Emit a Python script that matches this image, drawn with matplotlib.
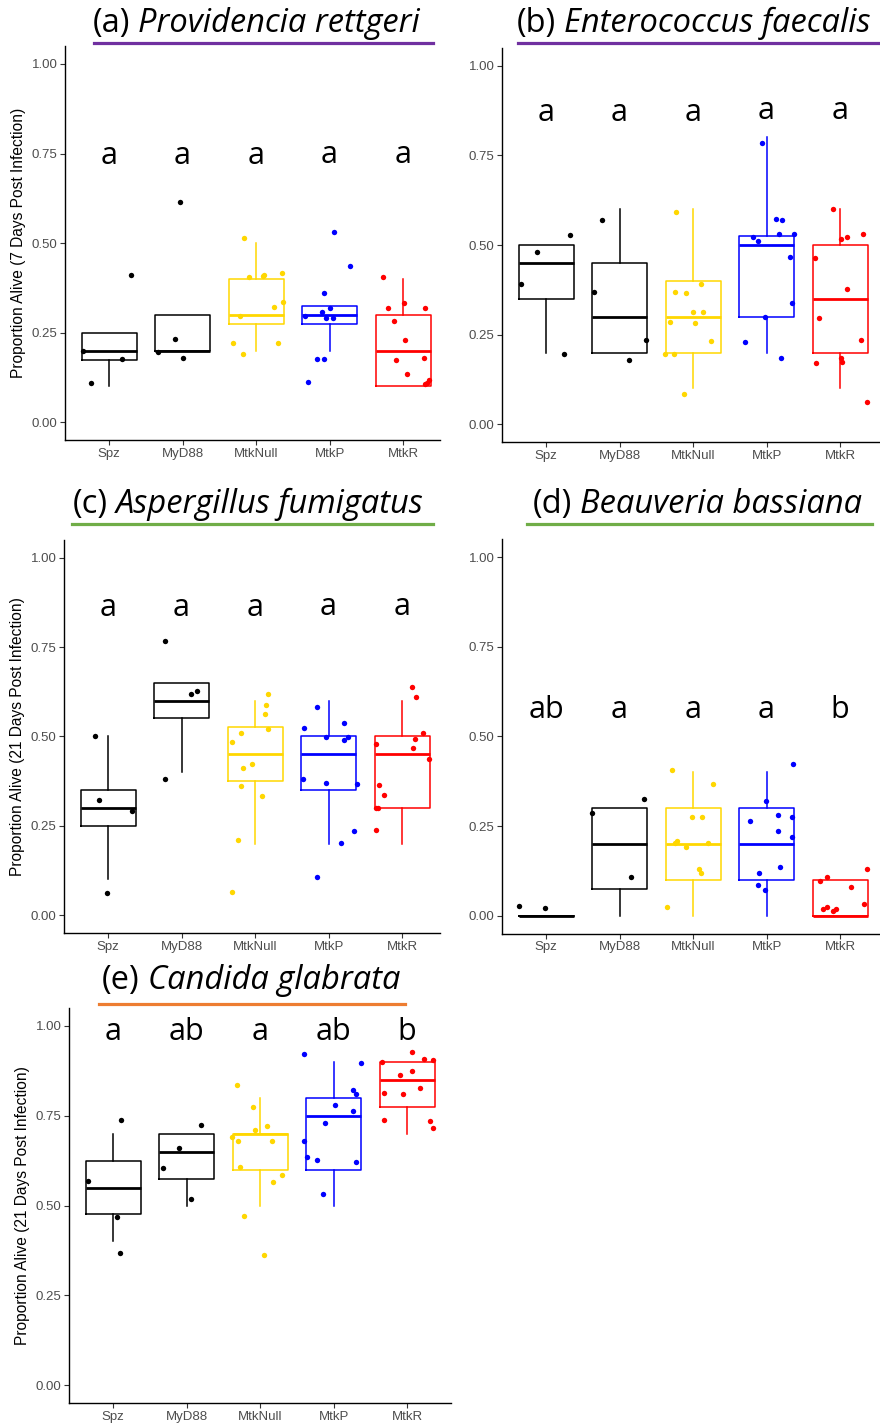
import matplotlib
matplotlib.use('Agg')
import matplotlib.pyplot as plt
from matplotlib.lines import Line2D

W, H = 880, 1424
DPI = 100

GROUPS = ['Spz', 'MyD88', 'MtkNull', 'MtkP', 'MtkR']
GROUP_COLORS = ['#000000', '#000000', '#FFD700', '#0000FF', '#FF0000']
YTICKS = [0.00, 0.25, 0.50, 0.75, 1.00]
YTICK_LABELS = ['0.00', '0.25', '0.50', '0.75', '1.00']

# ---------------- Panel (a) Providencia rettgeri ----------------
A_WHISLO = [0.10, 0.20, 0.20, 0.20, 0.10]
A_Q1 = [0.175, 0.20, 0.275, 0.275, 0.10]
A_MED = [0.20, 0.20, 0.30, 0.30, 0.20]
A_Q3 = [0.25, 0.30, 0.40, 0.325, 0.30]
A_WHISHI = [0.25, 0.30, 0.50, 0.325, 0.40]
A_DX = [[-0.36, -0.24, 0.18, 0.30],
        [-0.33, -0.11, 0.01, -0.04],
        [-0.16, -0.10, 0.10, 0.11, 0.35, 0.36, 0.25, -0.22, -0.31, 0.30, -0.18],
        [0.06, 0.28, -0.07, -0.34, -0.10, 0.01, -0.05, 0.04, -0.17, -0.07, -0.30],
        [-0.27, -0.20, 0.01, 0.30, -0.13, 0.02, -0.09, 0.29, 0.05, 0.33, 0.35, 0.30]]
A_Y = [[0.199, 0.109, 0.176, 0.412],
       [0.195, 0.233, 0.179, 0.614],
       [0.514, 0.406, 0.408, 0.410, 0.416, 0.336, 0.323, 0.297, 0.220, 0.220, 0.191],
       [0.532, 0.437, 0.361, 0.296, 0.307, 0.320, 0.292, 0.291, 0.177, 0.177, 0.112],
       [0.406, 0.319, 0.332, 0.319, 0.283, 0.231, 0.173, 0.179, 0.136, 0.109, 0.118, 0.107]]
A_LETTERS = ['a', 'a', 'a', 'a', 'a']
A_LETTER_Y = [0.721, 0.721, 0.721, 0.725, 0.725]

# ---------------- Panel (b) Enterococcus faecalis ----------------
B_WHISLO = [0.20, 0.20, 0.10, 0.20, 0.10]
B_Q1 = [0.35, 0.20, 0.20, 0.30, 0.20]
B_MED = [0.45, 0.30, 0.30, 0.50, 0.35]
B_Q3 = [0.50, 0.45, 0.40, 0.525, 0.50]
B_WHISHI = [0.50, 0.60, 0.60, 0.80, 0.60]
B_DX = [[-0.34, -0.13, 0.33, 0.24],
        [-0.24, -0.35, 0.36, 0.13],
        [-0.23, 0.11, -0.24, -0.09, 0.00, 0.13, -0.31, 0.02, 0.24, -0.38, -0.26, -0.12],
        [-0.06, 0.13, 0.21, -0.19, -0.12, 0.17, 0.37, 0.32, 0.34, -0.02, -0.30, 0.19],
        [-0.09, 0.01, 0.10, 0.31, -0.34, 0.10, -0.29, 0.28, -0.33, 0.01, 0.03, 0.37]]
B_Y = [[0.392, 0.481, 0.528, 0.197],
       [0.570, 0.368, 0.235, 0.180],
       [0.593, 0.391, 0.369, 0.366, 0.313, 0.313, 0.285, 0.283, 0.233, 0.197, 0.196, 0.084],
       [0.784, 0.572, 0.570, 0.522, 0.510, 0.530, 0.530, 0.466, 0.339, 0.300, 0.229, 0.184],
       [0.601, 0.516, 0.521, 0.530, 0.464, 0.378, 0.296, 0.235, 0.171, 0.185, 0.174, 0.061]]
B_LETTERS = ['a', 'a', 'a', 'a', 'a']
B_LETTER_Y = [0.846, 0.846, 0.846, 0.850, 0.850]

# ---------------- Panel (c) Aspergillus fumigatus ----------------
C_WHISLO = [0.10, 0.40, 0.20, 0.20, 0.20]
C_Q1 = [0.25, 0.55, 0.375, 0.35, 0.30]
C_MED = [0.30, 0.60, 0.45, 0.45, 0.45]
C_Q3 = [0.35, 0.65, 0.525, 0.50, 0.50]
C_WHISHI = [0.50, 0.65, 0.60, 0.60, 0.60]
C_DX = [[-0.18, -0.13, 0.32, -0.02],
        [-0.22, 0.13, 0.21, -0.22],
        [0.18, 0.15, 0.14, 0.18, -0.19, -0.31, -0.04, -0.16, -0.19, 0.10, -0.23, -0.31],
        [-0.16, -0.34, 0.21, -0.04, 0.27, 0.21, -0.35, -0.04, 0.39, 0.34, 0.17, -0.16],
        [0.14, 0.19, 0.29, 0.17, 0.15, 0.36, -0.36, -0.31, -0.25, -0.36, -0.33, -0.36]]
C_Y = [[0.501, 0.321, 0.291, 0.062],
       [0.767, 0.618, 0.626, 0.382],
       [0.618, 0.588, 0.563, 0.521, 0.508, 0.484, 0.424, 0.412, 0.362, 0.334, 0.211, 0.063],
       [0.583, 0.522, 0.536, 0.499, 0.497, 0.490, 0.382, 0.369, 0.368, 0.235, 0.202, 0.106],
       [0.639, 0.611, 0.510, 0.493, 0.468, 0.438, 0.479, 0.364, 0.336, 0.299, 0.299, 0.238]]
C_LETTERS = ['a', 'a', 'a', 'a', 'a']
C_LETTER_Y = [0.837, 0.837, 0.837, 0.841, 0.841]

# ---------------- Panel (d) Beauveria bassiana ----------------
D_WHISLO = [0.0, 0.0, 0.0, 0.0, 0.0]
D_Q1 = [0.0, 0.075, 0.10, 0.10, 0.0]
D_MED = [0.0, 0.20, 0.20, 0.20, 0.0]
D_Q3 = [0.0, 0.30, 0.30, 0.30, 0.10]
D_WHISHI = [0.0, 0.30, 0.40, 0.40, 0.10]
D_DX = [[-0.37, -0.02],
        [0.33, -0.37, 0.15],
        [-0.29, 0.27, -0.01, 0.12, -0.22, -0.25, -0.10, 0.20, 0.08, 0.11, -0.36],
        [0.36, -0.01, -0.23, 0.15, 0.35, 0.16, 0.34, 0.18, -0.11, -0.12, -0.02],
        [0.37, -0.18, -0.27, 0.15, 0.32, -0.23, -0.18, -0.10, -0.05]]
D_Y = [[0.026, 0.021],
       [0.326, 0.287, 0.109],
       [0.407, 0.367, 0.274, 0.276, 0.209, 0.204, 0.191, 0.202, 0.130, 0.118, 0.023],
       [0.423, 0.321, 0.264, 0.280, 0.274, 0.237, 0.220, 0.136, 0.119, 0.086, 0.073],
       [0.131, 0.109, 0.097, 0.079, 0.032, 0.020, 0.025, 0.014, 0.020]]
D_LETTERS = ['ab', 'a', 'a', 'a', 'b']
D_LETTER_Y = [0.551, 0.551, 0.551, 0.551, 0.551]

# ---------------- Panel (e) Candida glabrata ----------------
E_WHISLO = [0.40, 0.50, 0.50, 0.50, 0.70]
E_Q1 = [0.475, 0.575, 0.60, 0.60, 0.775]
E_MED = [0.55, 0.65, 0.70, 0.75, 0.85]
E_Q3 = [0.625, 0.70, 0.70, 0.80, 0.90]
E_WHISHI = [0.70, 0.70, 0.80, 0.90, 0.90]
E_DX = [[0.11, -0.34, 0.05, 0.09],
        [0.20, -0.10, -0.32, 0.06],
        [-0.31, -0.10, -0.07, 0.10, -0.38, -0.30, 0.16, -0.27, 0.30, 0.17, -0.22, 0.05],
        [-0.40, 0.37, 0.26, 0.30, 0.02, 0.26, -0.12, -0.40, -0.36, -0.23, 0.31, -0.15],
        [0.07, 0.23, 0.35, -0.34, 0.07, -0.10, 0.18, -0.31, -0.06, -0.32, 0.31, 0.35]]
E_Y = [[0.739, 0.569, 0.469, 0.368],
       [0.724, 0.660, 0.605, 0.518],
       [0.837, 0.774, 0.711, 0.721, 0.690, 0.679, 0.681, 0.606, 0.586, 0.565, 0.471, 0.362],
       [0.922, 0.898, 0.822, 0.811, 0.780, 0.762, 0.730, 0.679, 0.636, 0.626, 0.620, 0.532],
       [0.928, 0.907, 0.905, 0.900, 0.876, 0.863, 0.827, 0.812, 0.811, 0.738, 0.736, 0.715]]
E_LETTERS = ['a', 'ab', 'a', 'ab', 'b']
E_LETTER_Y = [0.961, 0.961, 0.961, 0.961, 0.961]

TITLE_TAGS = ['(a)', '(b)', '(c)', '(d)', '(e)']
SPECIES = ['Providencia rettgeri', 'Enterococcus faecalis', 'Aspergillus fumigatus',
           'Beauveria bassiana', 'Candida glabrata']
YLABELS = ['Proportion Alive (7 Days Post Infection)', None,
           'Proportion Alive (21 Days Post Infection)', None,
           'Proportion Alive (21 Days Post Infection)']
UNDERLINE_COLORS = ['#7030A0', '#7030A0', '#70AD47', '#70AD47', '#ED7D31']

# ---------------- layout (pixels) ----------------
# (left, right, y_at_0, y_at_1)
AX_BOX = [(65, 440, 422.3, 64.0),
          (502, 880, 424.3, 65.7),
          (64, 440, 915.0, 557.7),
          (502, 880, 915.7, 557.0),
          (69, 451, 1385.0, 1026.0)]
CAT_PX = 73.5
TITLE_POS = [(93, 32), (517, 32), (73, 513), (533, 513), (102, 989)]
UNDERLINE = [(94, 433, 43), (518, 880, 43), (72, 433, 524), (527, 872, 524), (99, 405, 1004)]

TITLE_FONT = 'Open Sans'
TICK_FONT = 'Liberation Sans'
LET_SIZE = 22
TITLE_SIZE = 23.5

panels = [
    (A_WHISLO, A_Q1, A_MED, A_Q3, A_WHISHI, A_DX, A_Y, A_LETTERS, A_LETTER_Y),
    (B_WHISLO, B_Q1, B_MED, B_Q3, B_WHISHI, B_DX, B_Y, B_LETTERS, B_LETTER_Y),
    (C_WHISLO, C_Q1, C_MED, C_Q3, C_WHISHI, C_DX, C_Y, C_LETTERS, C_LETTER_Y),
    (D_WHISLO, D_Q1, D_MED, D_Q3, D_WHISHI, D_DX, D_Y, D_LETTERS, D_LETTER_Y),
    (E_WHISLO, E_Q1, E_MED, E_Q3, E_WHISHI, E_DX, E_Y, E_LETTERS, E_LETTER_Y),
]

fig = plt.figure(figsize=(W / DPI, H / DPI), dpi=DPI)
fig.patch.set_facecolor('white')

for i, (wlo, q1, med, q3, whi, dxs, ys, letters, lety) in enumerate(panels):
    left, right, y0, y1 = AX_BOX[i]
    unit = y0 - y1
    top = y1 - 0.05 * unit
    bottom = y0 + 0.05 * unit
    ax = fig.add_axes([left / W, 1 - bottom / H, (right - left) / W, (bottom - top) / H])
    ax.set_ylim(-0.05, 1.05)
    ax.set_xlim(0.4, 0.4 + (right - left) / CAT_PX)
    pos = list(range(1, len(GROUPS) + 1))

    for j in range(len(GROUPS)):
        col = GROUP_COLORS[j]
        st = [dict(whislo=wlo[j], q1=q1[j], med=med[j], q3=q3[j], whishi=whi[j])]
        ax.bxp(st, positions=[pos[j]], widths=0.75, showfliers=False, showcaps=False,
               boxprops=dict(color=col, linewidth=1.1),
               whiskerprops=dict(color=col, linewidth=1.1),
               medianprops=dict(color=col, linewidth=2.0, solid_capstyle='butt'),
               manage_ticks=False, zorder=2)
    for j in range(len(GROUPS)):
        xs = [pos[j] + d for d in dxs[j]]
        ax.scatter(xs, ys[j], s=15, color=GROUP_COLORS[j], linewidths=0, zorder=3, clip_on=False)
    for j in range(len(GROUPS)):
        ax.text(pos[j], lety[j], letters[j], ha='center', va='baseline',
                fontsize=LET_SIZE, family=TITLE_FONT, color='black', zorder=4)

    ax.set_xticks(pos)
    ax.set_xticklabels(GROUPS, family=TICK_FONT)
    ax.set_yticks(YTICKS)
    ax.set_yticklabels(YTICK_LABELS, family=TICK_FONT)
    ax.tick_params(axis='both', length=3.5, width=0.8, color='#333333',
                   labelcolor='#4D4D4D', labelsize=9.5, pad=2)
    for s in ['top', 'right']:
        ax.spines[s].set_visible(False)
    for s in ['left', 'bottom']:
        ax.spines[s].set_color('black')
        ax.spines[s].set_linewidth(1.0)
    if YLABELS[i]:
        ax.set_ylabel(YLABELS[i], family=TICK_FONT, fontsize=11.2, color='black', labelpad=4)

    # title: regular tag + italic species name
    tx, ty = TITLE_POS[i]
    t1 = fig.text(tx / W, 1 - ty / H, TITLE_TAGS[i], family=TITLE_FONT, fontsize=TITLE_SIZE,
                  ha='left', va='baseline')
    fig.add_artist(matplotlib.text.Annotation(SPECIES[i], xy=(1, 0), xycoords=t1,
                                              xytext=(8, 0), textcoords='offset pixels',
                                              family=TITLE_FONT, style='italic',
                                              fontsize=TITLE_SIZE, ha='left', va='bottom'))
    ux0, ux1, uy = UNDERLINE[i]
    fig.add_artist(Line2D([ux0 / W, ux1 / W], [1 - uy / H, 1 - uy / H],
                          transform=fig.transFigure, color=UNDERLINE_COLORS[i], linewidth=2.3))

fig.savefig('out.png', dpi=DPI, facecolor='white')
